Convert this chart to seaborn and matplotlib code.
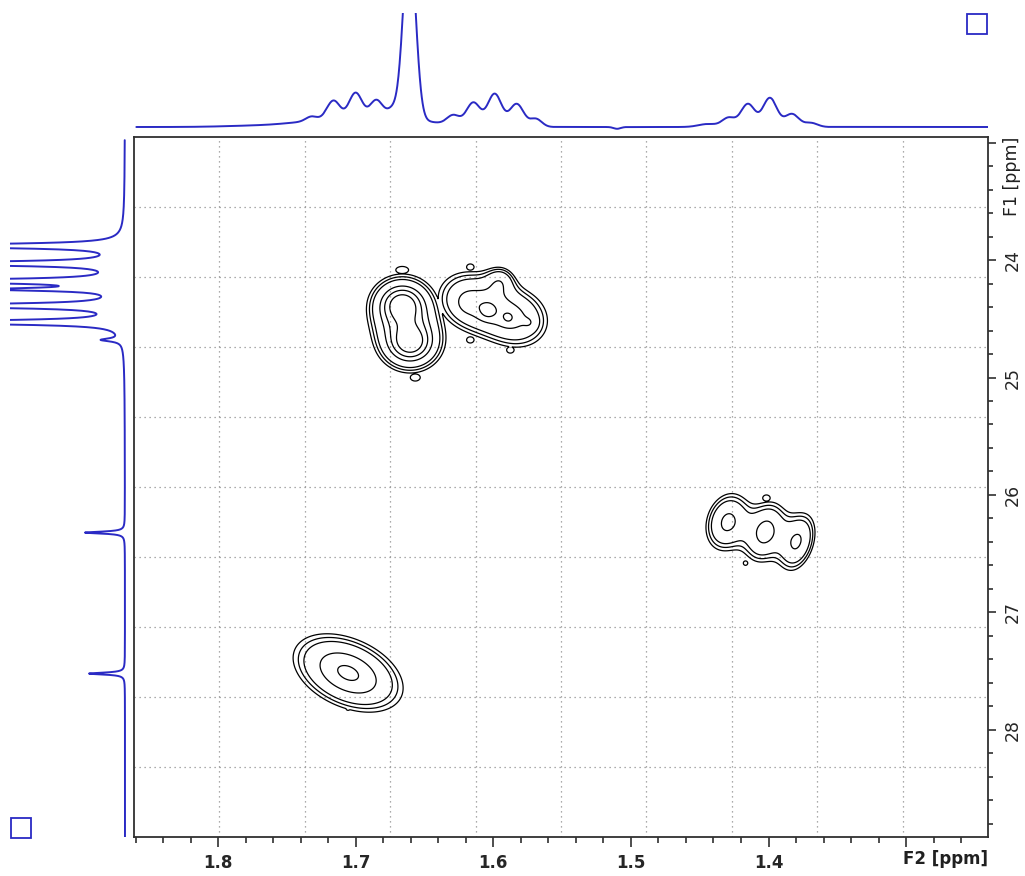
import numpy as np
import matplotlib
matplotlib.use("Agg")
import matplotlib.pyplot as plt
import seaborn as sns
from matplotlib.patches import Rectangle
from matplotlib.ticker import MultipleLocator, FuncFormatter

# ---------------- data ----------------
# F2 (1H) projection: line positions [ppm], heights, FWHM [ppm] (gaussian lines)
h_shift = [1.766, 1.728, 1.732, 1.716, 1.700, 1.685, 1.673, 1.661, 1.655, 1.629, 1.6145,
           1.599, 1.583, 1.569, 1.444, 1.429, 1.415, 1.399, 1.383, 1.369, 1.510]
h_height = [1.5, 5.0, 5.0, 22.0, 32.0, 25.0, 13.0, 185.0, 6.0, 10.0, 24.0,
            33.0, 23.0, 8.0, 3.0, 9.0, 23.0, 29.0, 13.0, 4.0, -1.8]
h_width = [0.060, 0.045, 0.010, 0.012, 0.012, 0.012, 0.010, 0.0105, 0.040, 0.011, 0.012,
           0.012, 0.012, 0.010, 0.016, 0.011, 0.012, 0.012, 0.012, 0.011, 0.006]

# F1 (13C) projection: line positions [ppm], heights, FWHM [ppm] (lorentzian lines)
c_shift = [23.88, 24.03, 24.18, 24.25, 24.39, 24.53, 24.68, 26.32, 27.52]
c_height = [300.0, 300.0, 300.0, 120.0, 300.0, 300.0, 20.0, 40.0, 36.0]
c_width = [0.03, 0.03, 0.03, 0.03, 0.03, 0.03, 0.03, 0.02, 0.02]

# Cross-peak components: F2 [ppm], F1 [ppm], amplitude, width along / across
# the ridge [F1-ppm], ridge angle [deg], line-shape exponent (2 = gaussian),
# group (components of one group add up)
xp_f2 = [1.6662, 1.6604,
         1.6167, 1.5840, 1.6189, 1.6043, 1.5891, 1.5731, 1.5949,
         1.4298, 1.4022, 1.3790,
         1.7055,
         1.6662, 1.6567, 1.6167, 1.5876, 1.7055, 1.4015, 1.4167, 1.6167]
xp_f1 = [24.383, 24.698,
         24.349, 24.494, 24.366, 24.434, 24.494, 24.536, 24.170,
         26.230, 26.315, 26.400,
         27.515,
         24.085, 25.000, 24.680, 24.766, 27.820, 26.026, 26.580, 24.060]
xp_amp = [6.0, 6.0,
          2.5, 2.5, 0.50, 0.80, 0.55, 0.45, 1.40,
          2.70, 2.75, 2.55,
          3.45,
          1.2, 1.2, 1.15, 1.15, 1.1, 1.15, 1.12, 1.15]
xp_along = [0.116, 0.116,
            0.204, 0.204, 0.051, 0.051, 0.040, 0.040, 0.085,
            0.125, 0.110, 0.100,
            0.315,
            0.090, 0.070, 0.060, 0.060, 0.040, 0.060, 0.040, 0.060]
xp_across = [0.105, 0.105,
             0.175, 0.175, 0.051, 0.051, 0.040, 0.040, 0.085,
             0.175, 0.180, 0.180,
             0.185,
             0.050, 0.050, 0.050, 0.050, 0.030, 0.050, 0.040, 0.050]
xp_angle = [0, 0,
            20, 20, 0, 0, 0, 0, 0,
            17, 17, 17,
            24,
            0, 0, 0, 0, 0, 0, 0, 0]
xp_shape = [1.4, 1.4,
            2, 2, 2, 2, 2, 2, 2,
            2, 2, 2,
            2,
            2, 2, 2, 2, 2, 2, 2, 2]
xp_group = [0, 0,
            1, 1, 1, 1, 1, 1, 1,
            2, 2, 2,
            3,
            4, 5, 6, 7, 8, 9, 10, 11]

# contour levels (relative intensity)
levels = [1.0, 1.25, 1.55, 2.5, 3.3, 4.3]

F2_LIM = (1.8611, 1.2405)
F1_LIM = (28.911, 22.953)

# ---------------- figure layout ----------------
W, H = 1025, 876
fig = plt.figure(figsize=(W / 100, H / 100), dpi=100)
sns.set_style("white")
plt.rcParams["font.family"] = ["DejaVu Sans"]


def px_axes(x0, y0, x1, y1):
    return fig.add_axes([x0 / W, 1 - y1 / H, (x1 - x0) / W, (y1 - y0) / H])


ax = px_axes(134, 137, 988, 837)
ax_top = px_axes(134, 13, 988, 137)
ax_left = px_axes(10, 137, 134, 837)

# ---------------- 2D contour map ----------------
f2 = np.linspace(F2_LIM[1], F2_LIM[0], 900)
f1 = np.linspace(F1_LIM[1], F1_LIM[0], 1000)
G2, G1 = np.meshgrid(f2, f1)

# display aspect: pixels per ppm along each dimension
px_per_f2 = 854 / (F2_LIM[0] - F2_LIM[1])
px_per_f1 = 700 / (F1_LIM[0] - F1_LIM[1])
scale = px_per_f2 / px_per_f1

groups = {}
for c2, c1, a, sa, sc, ang, shp, g in zip(xp_f2, xp_f1, xp_amp, xp_along, xp_across,
                                          xp_angle, xp_shape, xp_group):
    u = (c2 - G2) * scale          # rightwards on screen, in F1-ppm units
    v = (G1 - c1)                  # downwards on screen
    t = np.deg2rad(ang)
    p = u * np.cos(t) + v * np.sin(t)
    q = -u * np.sin(t) + v * np.cos(t)
    r2 = (p / sa) ** 2 + (q / sc) ** 2
    groups[g] = groups.get(g, 0) + a * np.exp(-0.5 * r2 ** (shp / 2))
Z = np.maximum.reduce(list(groups.values()))

ax.contour(G2, G1, Z, levels=levels, colors="black", linewidths=0.9)

ax.set_xlim(*F2_LIM)
ax.set_ylim(*F1_LIM)

# dotted grid dividing the frame into tenths
for k in range(1, 10):
    ax.plot([k / 10, k / 10], [0, 1], transform=ax.transAxes, color="#909090",
            linestyle=(0, (1, 3)), linewidth=0.9, zorder=0)
    ax.plot([0, 1], [k / 10, k / 10], transform=ax.transAxes, color="#909090",
            linestyle=(0, (1, 3)), linewidth=0.9, zorder=0)

for s in ax.spines.values():
    s.set_color("#303030")
    s.set_linewidth(1.3)

ax.xaxis.set_major_locator(MultipleLocator(0.1))
ax.xaxis.set_minor_locator(MultipleLocator(0.02))
ax.xaxis.set_major_formatter(FuncFormatter(lambda v, p: "" if abs(v - 1.3) < 1e-6 else f"{v:.1f}"))
ax.yaxis.tick_right()
ax.yaxis.set_major_locator(MultipleLocator(1))
ax.yaxis.set_minor_locator(MultipleLocator(0.2))
ax.yaxis.set_major_formatter(FuncFormatter(lambda v, p: "" if abs(v - 23) < 1e-6 else f"{v:.0f}"))
ax.tick_params(axis="x", which="both", direction="out", bottom=True, top=False,
               color="#303030", width=1.2)
ax.tick_params(axis="x", which="major", length=7, pad=5, labelsize=12)
ax.tick_params(axis="x", which="minor", length=4.5)
ax.tick_params(axis="y", which="both", direction="out", right=True, left=False,
               color="#303030", width=1.2)
ax.tick_params(axis="y", which="major", length=5.5, pad=6, labelsize=12.5, labelrotation=90)
ax.tick_params(axis="y", which="minor", length=3.5)
for lab in ax.get_xticklabels():
    lab.set_fontweight("bold")
for lab in ax.get_yticklabels():
    lab.set_verticalalignment("center")

ax.text(1.0, -0.018, "F2 [ppm]", transform=ax.transAxes, ha="right", va="top",
        fontsize=12, fontweight="bold", color="#202020")
ax.text(1.018, 1.0, "F1 [ppm]", transform=ax.transAxes, ha="left", va="top",
        rotation=90, fontsize=12.5, color="#202020")

# ---------------- projections ----------------
blue = "#2a2ac4"


def gauss_sum(x, pos, hgt, wid):
    y = np.zeros_like(x)
    for p0, h0, w0 in zip(pos, hgt, wid):
        y += h0 * np.exp(-4 * np.log(2) * ((x - p0) / w0) ** 2)
    return y


def lorentz_sum(x, pos, hgt, wid):
    y = np.zeros_like(x)
    for p0, h0, w0 in zip(pos, hgt, wid):
        y += h0 / (1 + ((x - p0) / (w0 / 2)) ** 2)
    return y


x_top = np.linspace(F2_LIM[1], 1.8594, 3000)
y_top = gauss_sum(x_top, h_shift, h_height, h_width)
sns.lineplot(x=x_top, y=y_top, ax=ax_top, color=blue, linewidth=1.4, sort=False,
             estimator=None)
ax_top.set_xlim(*F2_LIM)
ax_top.set_ylim(-10, 114)
ax_top.axis("off")

y_left = np.linspace(22.98, F1_LIM[0], 4000)
x_left = lorentz_sum(y_left, c_shift, c_height, c_width)
sns.lineplot(x=x_left, y=y_left, ax=ax_left, color=blue, linewidth=1.4, sort=False,
             estimator=None, orient="y")
ax_left.set_xlim(115, -9)
ax_left.set_ylim(*F1_LIM)
ax_left.axis("off")

# small frames in the corners
for (x0, y0) in [(967, 14), (11, 818)]:
    fig.patches.append(Rectangle((x0 / W, 1 - (y0 + 20) / H), 20 / W, 20 / H,
                                 transform=fig.transFigure, fill=False,
                                 edgecolor=blue, linewidth=1.3))

fig.savefig("out.png", dpi=100, facecolor="white")
